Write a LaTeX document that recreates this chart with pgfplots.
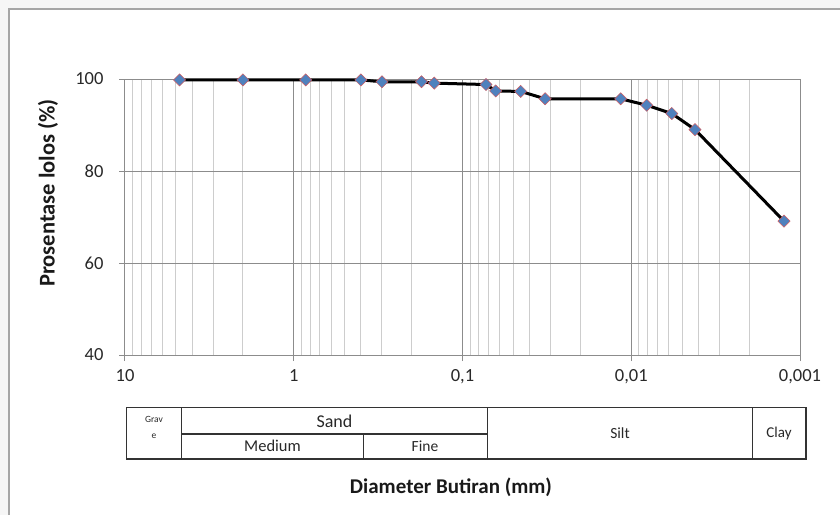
\documentclass[border=0pt]{standalone}
\usepackage{pgfplots}
\pgfplotsset{compat=1.18}
\usepackage{fontspec}
\setmainfont{Carlito}
\definecolor{ptfill}{RGB}{79,129,189}
\definecolor{ptedge}{RGB}{205,90,95}
\definecolor{majgrid}{RGB}{140,140,140}
\definecolor{mingrid}{RGB}{205,205,205}
\definecolor{txt}{RGB}{40,40,40}
\begin{document}
\begin{tikzpicture}[x=1pt,y=1pt]
  % pixel (px,py) of the reference -> (px-125, 355-py)
  \useasboundingbox (-125,-160) rectangle (715,355);
  \fill[gray!7] (-125,-160) rectangle (-116,355);
  \fill[gray!7] (-125,346) rectangle (715,355);
  \draw[gray!70, line width=1.2pt] (-116,-160) -- (-116,346) -- (715,346);
  \begin{axis}[
      at={(0,0)}, anchor=south west,
      scale only axis, width=675pt, height=276pt,
      xmode=log, log basis x=10, x dir=reverse,
      xmin=0.001, xmax=10,
      ymin=40, ymax=100,
      xtick={0.001,0.01,0.1,1,10},
      xticklabels={0{,}001,0{,}01,0{,}1,1,10},
      minor xtick={0.002,0.003,0.004,0.005,0.006,0.007,0.008,0.009,
                   0.02,0.03,0.04,0.05,0.06,0.07,0.08,0.09,
                   0.2,0.3,0.4,0.5,0.6,0.7,0.8,0.9,
                   2,3,4,5,6,7,8,9},
      ytick={40,60,80,100},
      /pgf/number format/assume math mode=true,
      ticklabel style={font=\fontsize{18.5}{20}\selectfont, text=txt},
      xticklabel style={yshift=-5pt},
      yticklabel style={xshift=-12pt},
      grid=both,
      major grid style={majgrid, line width=1pt},
      minor grid style={mingrid, line width=1pt},
      yminorgrids=false,
      axis line style={majgrid, line width=1pt},
      tick style={majgrid, line width=1pt},
      major tick length=6pt,
      minor tick length=0pt,
      tick align=outside,
      xtick pos=bottom, ytick pos=left,
      clip=false,
    ]
    \addplot[black, line width=3pt,
        mark=square*, mark size=4.3pt,
        mark options={rotate=45, fill=ptfill, draw=ptedge, line width=0.5pt}]
      table {
        d        p
        4.75     99.8
        2.00     99.8
        0.85     99.8
        0.40     99.8
        0.30     99.4
        0.175    99.4
        0.147    99.1
        0.0726   98.8
        0.0636   97.4
        0.0452   97.3
        0.0324   95.7
        0.01155  95.7
        0.0081   94.3
        0.00575  92.5
        0.00419  89.0
        0.001244 69.1
      };
  \end{axis}
  % soil classification table
  \begin{scope}[line width=1.1pt, draw=black!80]
    \draw (1.7,-52.3) rectangle (681,-104);
    \draw (56.7,-52.3) -- (56.7,-104);
    \draw (362.3,-52.3) -- (362.3,-104);
    \draw (627.7,-52.3) -- (627.7,-104);
    \draw (56.7,-79) -- (362.3,-79);
    \draw (238.3,-79) -- (238.3,-104);
  \end{scope}
  \begin{scope}[text=txt]
    \node[font=\fontsize{9.5}{10}\selectfont] at (29,-64) {Grav};
    \node[font=\fontsize{9.5}{10}\selectfont] at (29,-81) {e};
    \node[font=\fontsize{18}{20}\selectfont] at (209.5,-66) {Sand};
    \node[font=\fontsize{16.5}{18}\selectfont] at (147.5,-91) {Medium};
    \node[font=\fontsize{15.5}{17}\selectfont] at (300,-91) {Fine};
    \node[font=\fontsize{15.5}{17}\selectfont] at (495,-78) {Silt};
    \node[font=\fontsize{15}{17}\selectfont] at (654,-78) {Clay};
  \end{scope}
  \node[font=\bfseries\fontsize{21}{23}\selectfont, text=black!90] at (326,-132) {Diameter Butiran (mm)};
  \node[font=\bfseries\fontsize{22.5}{24}\selectfont, text=black!90, rotate=90] at (-77,162) {Prosentase lolos (\%)};
\end{tikzpicture}
\end{document}
